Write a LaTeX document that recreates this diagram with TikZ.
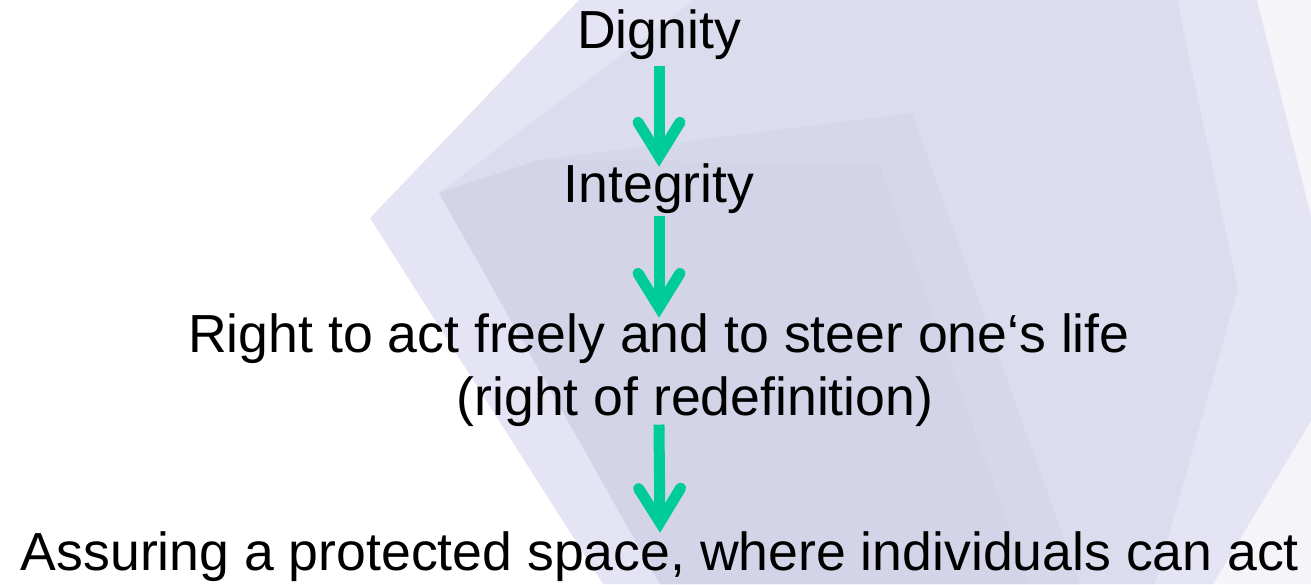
\documentclass[tikz,border=0pt]{standalone}
\usepackage{fontspec}
\setmainfont{Liberation Sans}
\usetikzlibrary{arrows.meta}
\definecolor{flowgreen}{HTML}{00CC99}
\definecolor{lavlight}{HTML}{E4E4F5}
\definecolor{lavmid}{HTML}{DCDCEF}
\definecolor{lavdark}{HTML}{D4D4E9}
\definecolor{greyedge}{HTML}{F5F5F9}
\begin{document}
\begin{tikzpicture}[x=0.5pt,y=-0.5pt,
  stage/.style={font=\fontsize{26.8}{31.5}\selectfont, inner sep=0pt, anchor=base},
  flow/.style={flowgreen, line width=5.5pt,
    -{Straight Barb[length=17pt,width=21pt,line cap=round,line join=miter]}}]
\useasboundingbox (0,0) rectangle (1311,584);
% background facets
\fill[white] (0,0) rectangle (1311,584);
\fill[greyedge] (1257,0) -- (1311,0) -- (1311,216) -- cycle;
\fill[greyedge] (1311,421) -- (1311,584) -- (1213,584) -- cycle;
\fill[lavlight] (370,218) -- (579,0) -- (1257,0) -- (1311,216) -- (1311,421) -- (1213,584) -- (603,584) -- cycle;
\fill[lavmid] (439,193) -- (694,0) -- (1177,0) -- (1238,289) -- (1155,584) -- (660,584) -- cycle;
\fill[lavdark] (439,193) -- (539,160) -- (879,163) -- (1030,584) -- (660,584) -- cycle;
\fill[lavdark!60!lavmid] (539,160) -- (912,113) -- (1080,584) -- (1030,584) -- (879,163) -- cycle;
% chain
\node[stage] (dignity) at (659,48) {Dignity};
\node[stage] (integrity) at (659,202) {Integrity};
\node[stage, align=center] (freedom) at (659,415) {Right to act freely and to steer one‘s life\\ \hspace*{36pt}(right of redefinition)};
\node[stage] (space) at (660,570) {Assuring a protected space, where individuals can act};
\draw[flow, shorten <=3pt, shorten >=-2pt] (dignity.south) -- (integrity.north);
\draw[flow, shorten <=1pt, shorten >=-2.5pt] (integrity.south) -- (freedom.north);
\draw[flow, shorten <=-1pt, shorten >=-1pt] (freedom.south) -- (space.north);
\end{tikzpicture}
\end{document}
